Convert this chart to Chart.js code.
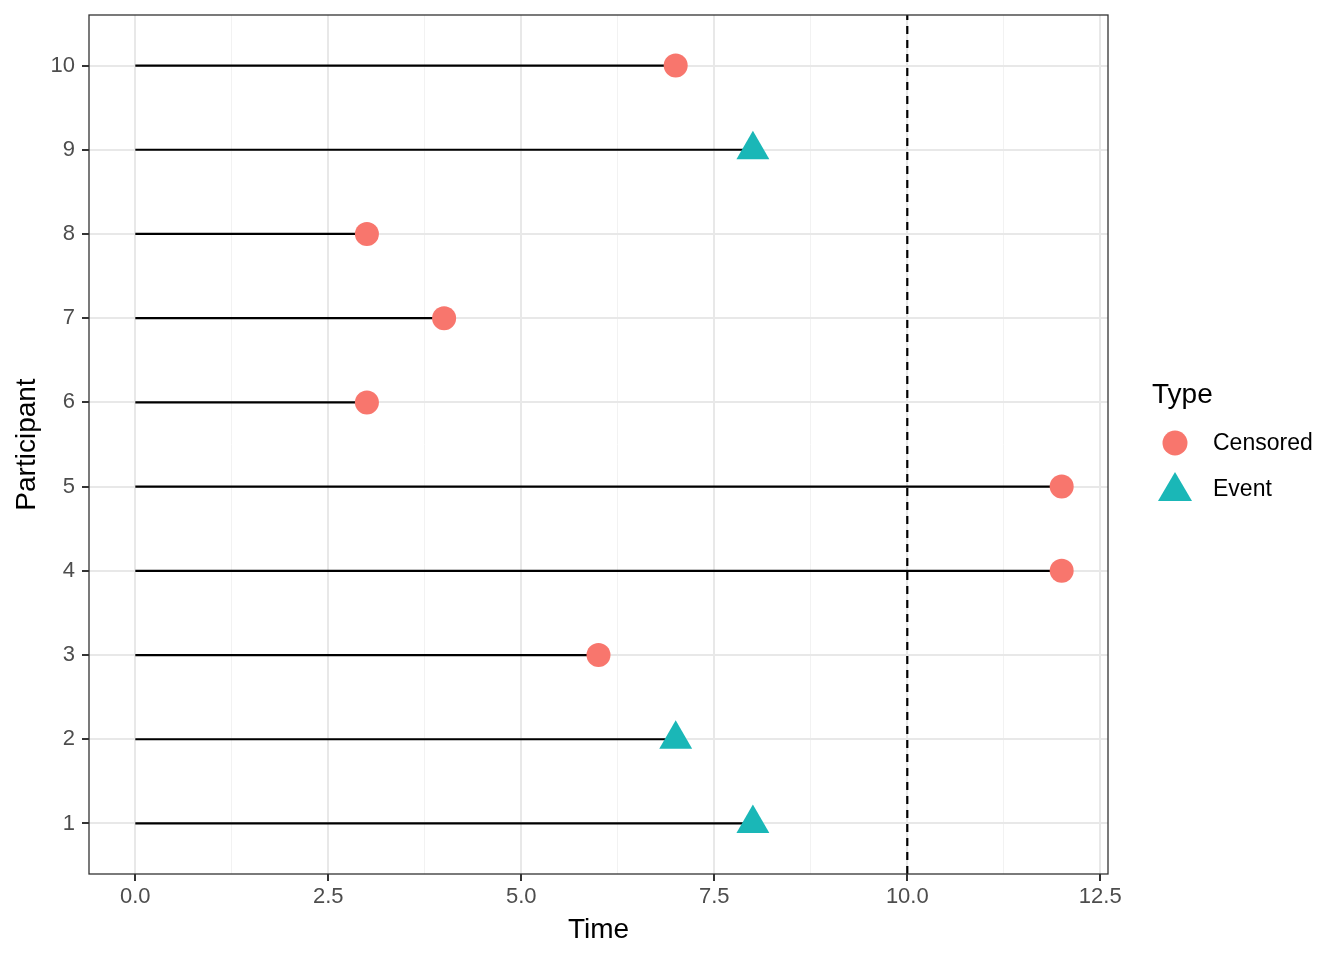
<!DOCTYPE html>
<html>
<head>
<meta charset="utf-8">
<script src="https://cdn.jsdelivr.net/npm/chart.js@4"></script>
<style>
  html, body { margin: 0; padding: 0; background: #fff; }
  #wrap { width: 1344px; height: 960px; }
</style>
</head>
<body>
<div id="wrap"><canvas id="chart" width="1344" height="960"></canvas></div>
<script>
// data
const participants = [1, 2, 3, 4, 5, 6, 7, 8, 9, 10]
const times = [8, 7, 6, 12, 12, 3, 4, 3, 8, 7]
const types = ["Event", "Event", "Censored", "Censored", "Censored",
  "Censored", "Censored", "Censored", "Event", "Censored"]
const typeNames = ["Censored", "Event"]
const typeColors = { Censored: "#F8766D", Event: "#1AB7B7" }
const typeShapes = { Censored: "circle", Event: "triangle" }
const xTicks = [0, 2.5, 5, 7.5, 10, 12.5]
const xMinor = [1.25, 3.75, 6.25, 8.75, 11.25]
const cutoff = 10

const FONT = "'Liberation Sans', Arial, Helvetica, sans-serif"
const TICK_SIZE = 22
const TITLE_SIZE = 28

// one black segment per participant
const segmentSets = participants.map(function (p, i) {
  return {
    type: "line",
    data: [{ x: 0, y: p }, { x: times[i], y: p }],
    borderColor: "#000",
    borderWidth: 2.2,
    pointRadius: 0,
    order: 3,
  }
})

// points, one dataset per type
const pointSets = typeNames.map(function (t) {
  const pts = []
  participants.forEach(function (p, i) {
    if (types[i] == t) pts.push({ x: times[i], y: p })
  })
  return {
    type: "scatter",
    label: t,
    data: pts,
    pointStyle: typeShapes[t],
    backgroundColor: typeColors[t],
    borderColor: typeColors[t],
    borderWidth: 0,
    pointRadius: t == "Event" ? 19 : 12,
    order: 1,
  }
})

const cutoffSet = {
  type: "line",
  data: [{ x: cutoff, y: 0.4 }, { x: cutoff, y: 10.6 }],
  borderColor: "#000",
  borderWidth: 2.2,
  borderDash: [8, 6],
  pointRadius: 0,
  order: 2,
}

const allX = xTicks.concat(xMinor).sort(function (a, b) { return a - b })

// panel border and legend
const extras = {
  id: "extras",
  afterDatasetsDraw(chart) {
    const ctx = chart.ctx
    const a = chart.chartArea
    ctx.save()
    ctx.strokeStyle = "#333333"
    ctx.lineWidth = 1.3
    ctx.strokeRect(a.left, a.top, a.right - a.left, a.bottom - a.top)

    // legend
    ctx.fillStyle = "#000"
    ctx.font = TITLE_SIZE + "px " + FONT
    ctx.textBaseline = "alphabetic"
    ctx.textAlign = "left"
    ctx.fillText("Type", 1152, 403)
    ctx.font = (TICK_SIZE + 1) + "px " + FONT
    ctx.textBaseline = "middle"
    typeNames.forEach(function (t, i) {
      const cy = 443 + i * 46
      ctx.fillStyle = typeColors[t]
      if (typeShapes[t] == "circle") {
        ctx.beginPath()
        ctx.arc(1175, cy, 12.5, 0, Math.PI * 2)
        ctx.fill()
      } else {
        ctx.beginPath()
        ctx.moveTo(1175, cy - 17)
        ctx.lineTo(1192, cy + 12)
        ctx.lineTo(1158, cy + 12)
        ctx.closePath()
        ctx.fill()
      }
      ctx.fillStyle = "#000"
      ctx.fillText(t, 1213, cy + 1)
    })
    ctx.restore()
  },
}

const canvasRef = document.getElementById("chart")
const myChart = new Chart(canvasRef, {
  data: { datasets: segmentSets.concat([cutoffSet]).concat(pointSets) },
  options: {
    responsive: false,
    animation: false,
    layout: { autoPadding: false, padding: { top: 15, right: 236, left: 0, bottom: 0 } },
    plugins: { legend: { display: false }, tooltip: { enabled: false } },
    scales: {
      x: {
        type: "linear",
        min: -0.6,
        max: 12.6,
        afterBuildTicks(scale) {
          scale.ticks = allX.map(function (v) { return { value: v } })
        },
        afterFit(scale) {
          scale.height = 86
          scale.paddingLeft = 0
          scale.paddingRight = 0
        },
        border: { display: false },
        grid: {
          color(c) { return xMinor.includes(c.tick.value) ? "#F2F2F2" : "#E8E8E8" },
          lineWidth(c) { return xMinor.includes(c.tick.value) ? 1 : 2 },
          tickColor(c) { return xMinor.includes(c.tick.value) ? "rgba(0,0,0,0)" : "#333333" },
          tickLength: 7,
        },
        ticks: {
          autoSkip: false,
          maxRotation: 0,
          padding: 3,
          color: "#4D4D4D",
          font: { family: FONT, size: TICK_SIZE },
          callback(v) { return xTicks.includes(v) ? v.toFixed(1) : "" },
        },
        title: {
          display: true,
          text: "Time",
          color: "#000",
          font: { family: FONT, size: TITLE_SIZE },
          padding: { top: 0, bottom: 13 },
        },
      },
      y: {
        type: "linear",
        min: 0.4,
        max: 10.6,
        afterBuildTicks(scale) {
          scale.ticks = participants.map(function (v) { return { value: v } })
        },
        afterFit(scale) {
          scale.width = 89
          scale.paddingTop = 0
          scale.paddingBottom = 0
        },
        border: { display: false },
        grid: {
          color: "#E8E8E8",
          lineWidth: 2,
          tickColor: "#333333",
          tickLength: 7,
        },
        ticks: {
          autoSkip: false,
          padding: 7,
          color: "#4D4D4D",
          font: { family: FONT, size: TICK_SIZE },
          callback(v) { return String(v) },
        },
        title: {
          display: true,
          text: "Participant",
          color: "#000",
          font: { family: FONT, size: TITLE_SIZE },
          padding: { top: 10, bottom: 0 },
        },
      },
    },
  },
  plugins: [extras],
})
</script>
</body>
</html>
